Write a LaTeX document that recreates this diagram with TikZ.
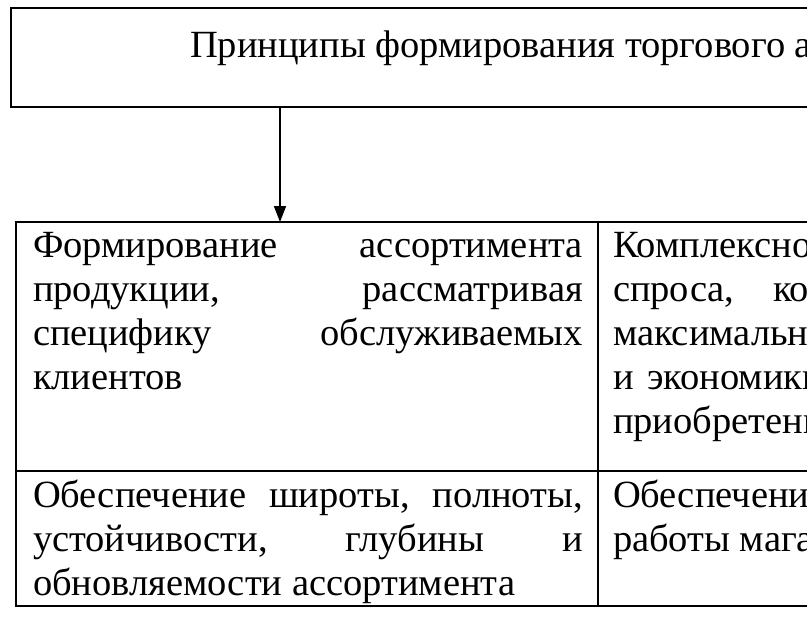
\documentclass[tikz,border=0pt]{standalone}
\usepackage{fontspec}
\setmainfont{Liberation Serif}
\usetikzlibrary{arrows.meta}
\begin{document}
\begin{tikzpicture}[x=1pt,y=-1pt,
  box/.style={draw=black, line width=1.8pt, inner sep=0pt, outer sep=0pt},
  txt/.style={anchor=base west, inner sep=0pt, outer sep=0pt, font=\fontsize{38.5}{44}\selectfont},
  conn/.style={line width=1.6pt, -{Triangle[length=16pt,width=12pt]}}]
\useasboundingbox (0,0) rectangle (807,625);
\fill[white] (0,0) rectangle (807,625);
\clip (0,0) rectangle (807,625);
% title box
\node[box, line width=2.4pt, anchor=north west, minimum width=850pt, minimum height=99pt] (head) at (11,8) {};
\node[txt] (ttl) at (190,57) {Принципы формирования торгового ассортимента};
% table cells
\node[box, anchor=north west, minimum width=582pt, minimum height=249pt] (c11) at (16,222) {};
\node[box, anchor=north west, minimum width=260pt, minimum height=249pt] (c12) at (598,222) {};
\node[box, anchor=north west, minimum width=582pt, minimum height=135pt] (c21) at (16,471) {};
\node[box, anchor=north west, minimum width=260pt, minimum height=135pt] (c22) at (598,471) {};
% arrow
\coordinate (ax) at (280,0);
\draw[conn] (head.south -| ax) -- (c11.north -| ax);
% left column, row 1
\node[txt] (a1) at (33,257) {\makebox[550pt][l]{Формирование\hfill ассортимента}};
\node[txt] (a2) at (33,301) {\makebox[550pt][l]{продукции,\hfill рассматривая}};
\node[txt] (a3) at (33,345) {\makebox[550pt][l]{специфику\hfill обслуживаемых}};
\node[txt] (a4) at (33,389) {клиентов};
% left column, row 2
\node[txt] (b1) at (33,507) {\makebox[550pt][l]{Обеспечение\hfill широты,\hfill полноты,}};
\node[txt] (b2) at (33,551) {\makebox[550pt][l]{устойчивости,\hfill глубины\hfill и}};
\node[txt] (b3) at (33,595) {обновляемости ассортимента};
% right column, row 1
\node[txt] (r1) at (613,257) {Комплексное};
\node[txt] (r2) at (613,301) {спроса,};
\node[txt] (r2b) at (773,301) {которое};
\node[txt] (r3) at (613,345) {максимального};
\node[txt] (r4) at (613,389) {и};
\node[txt] (r4b) at (647,389) {экономики};
\node[txt] (r5) at (613,433) {приобретения};
% right column, row 2
\node[txt] (s1) at (613,507) {Обеспечение};
\node[txt] (s2) at (613,551) {работы магазина};
\end{tikzpicture}
\end{document}
